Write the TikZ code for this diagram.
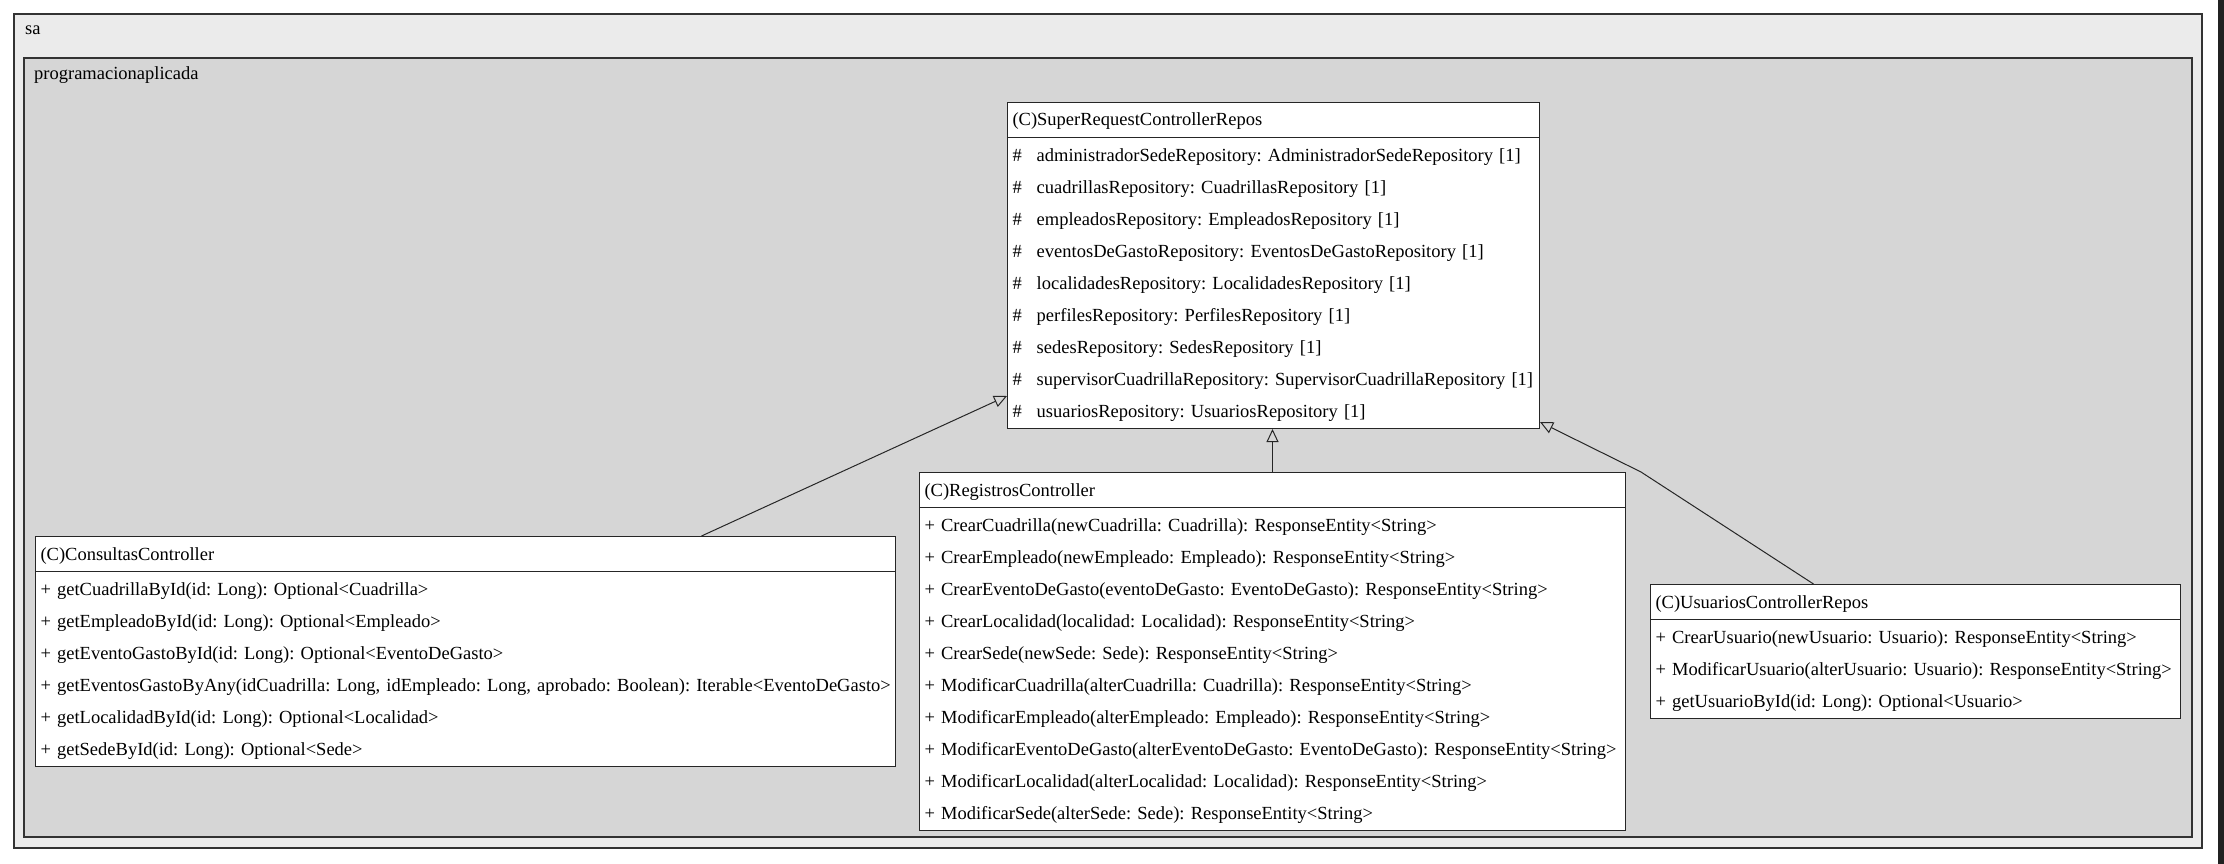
\documentclass[tikz,border=0pt]{standalone}
\usepackage{fontspec}
\setmainfont{Liberation Serif}
\usetikzlibrary{shapes.multipart,arrows.meta,positioning}
\frenchspacing

\newcommand{\umlrow}[1]{\mbox{\rule[-10pt]{0pt}{32pt}#1}}
\newcommand{\prot}{\#\hspace{15pt}}

\tikzset{
  umlclass/.style={rectangle split, rectangle split parts=2, draw=black!85, fill=white,
    line width=1pt, text width=#1, align=left, inner xsep=5pt, inner ysep=1pt,
    anchor=north west, font=\fontsize{18.5}{32}\selectfont},
  inherit/.style={draw=black!85, line width=1pt, -{Triangle[open,length=13pt,width=12pt]}},
  pkgbox/.style={draw=black!80, line width=1.3pt},
  pkgname/.style={anchor=west, inner sep=0pt, font=\fontsize{18.5}{22}\selectfont},
}

\begin{document}
\begin{tikzpicture}[x=1pt,y=-1pt]
\useasboundingbox (0,0) rectangle (2224,864);
\fill[black!87] (2218,0) rectangle (2224,864);

% packages
\draw[pkgbox, fill=black!8] (14,14) rectangle (2202,848);
\node[pkgname] (sa) at (25,30) {sa};
\draw[pkgbox, fill=black!16] (24,58) rectangle (2192,837);
\node[pkgname] (progapl) at (34,75) {programacionaplicada};

% classes
\node[umlclass=522pt] (super) at (1007,102) {\umlrow{(C)SuperRequestControllerRepos}
  \nodepart{second}
  \umlrow{\prot administradorSedeRepository: AdministradorSedeRepository [1]}\\
  \umlrow{\prot cuadrillasRepository: CuadrillasRepository [1]}\\
  \umlrow{\prot empleadosRepository: EmpleadosRepository [1]}\\
  \umlrow{\prot eventosDeGastoRepository: EventosDeGastoRepository [1]}\\
  \umlrow{\prot localidadesRepository: LocalidadesRepository [1]}\\
  \umlrow{\prot perfilesRepository: PerfilesRepository [1]}\\
  \umlrow{\prot sedesRepository: SedesRepository [1]}\\
  \umlrow{\prot supervisorCuadrillaRepository: SupervisorCuadrillaRepository [1]}\\
  \umlrow{\prot usuariosRepository: UsuariosRepository [1]}};

\node[umlclass=850pt] (consultas) at (35,536) {\umlrow{(C)ConsultasController}
  \nodepart{second}
  \umlrow{+ getCuadrillaById(id: Long): Optional<Cuadrilla>}\\
  \umlrow{+ getEmpleadoById(id: Long): Optional<Empleado>}\\
  \umlrow{+ getEventoGastoById(id: Long): Optional<EventoDeGasto>}\\
  \umlrow{+ getEventosGastoByAny(idCuadrilla: Long, idEmpleado: Long, aprobado: Boolean): Iterable<EventoDeGasto>}\\
  \umlrow{+ getLocalidadById(id: Long): Optional<Localidad>}\\
  \umlrow{+ getSedeById(id: Long): Optional<Sede>}};

\node[umlclass=696pt] (registros) at (919,472) {\umlrow{(C)RegistrosController}
  \nodepart{second}
  \umlrow{+ CrearCuadrilla(newCuadrilla: Cuadrilla): ResponseEntity<String>}\\
  \umlrow{+ CrearEmpleado(newEmpleado: Empleado): ResponseEntity<String>}\\
  \umlrow{+ CrearEventoDeGasto(eventoDeGasto: EventoDeGasto): ResponseEntity<String>}\\
  \umlrow{+ CrearLocalidad(localidad: Localidad): ResponseEntity<String>}\\
  \umlrow{+ CrearSede(newSede: Sede): ResponseEntity<String>}\\
  \umlrow{+ ModificarCuadrilla(alterCuadrilla: Cuadrilla): ResponseEntity<String>}\\
  \umlrow{+ ModificarEmpleado(alterEmpleado: Empleado): ResponseEntity<String>}\\
  \umlrow{+ ModificarEventoDeGasto(alterEventoDeGasto: EventoDeGasto): ResponseEntity<String>}\\
  \umlrow{+ ModificarLocalidad(alterLocalidad: Localidad): ResponseEntity<String>}\\
  \umlrow{+ ModificarSede(alterSede: Sede): ResponseEntity<String>}};

\node[umlclass=520pt] (usuarios) at (1650,584) {\umlrow{(C)UsuariosControllerRepos}
  \nodepart{second}
  \umlrow{+ CrearUsuario(newUsuario: Usuario): ResponseEntity<String>}\\
  \umlrow{+ ModificarUsuario(alterUsuario: Usuario): ResponseEntity<String>}\\
  \umlrow{+ getUsuarioById(id: Long): Optional<Usuario>}};

% inheritance
\coordinate (bend) at (1641,472);
\draw[inherit] ([xshift=236pt]consultas.north) -- ([yshift=33pt]super.south west);
\draw[inherit] (registros.north) -- (registros.north |- super.south);
\draw[inherit] ([xshift=-102pt]usuarios.north) -- (bend) -- ([yshift=7pt]super.south east);
\end{tikzpicture}
\end{document}
